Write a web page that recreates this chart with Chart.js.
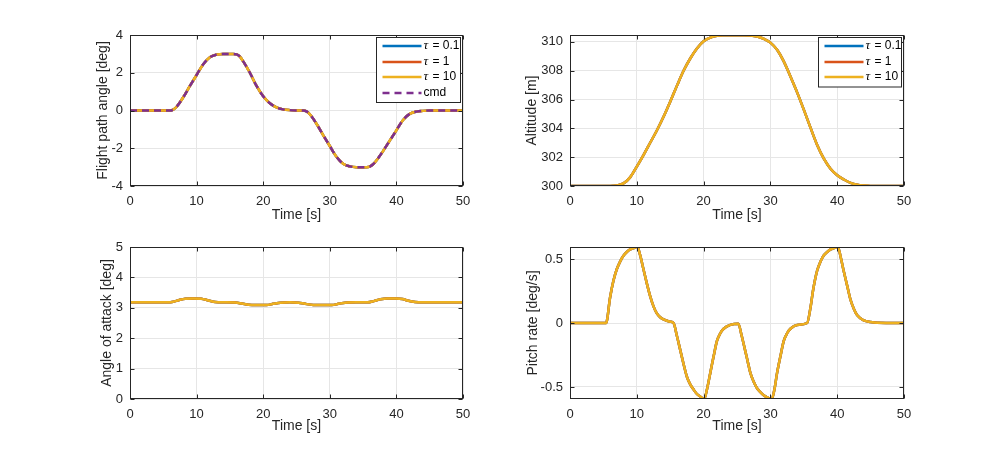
<!DOCTYPE html>
<html><head><meta charset="utf-8">
<script src="https://cdn.jsdelivr.net/npm/chart.js@4.4.0/dist/chart.umd.min.js"></script>
<style>
html,body{margin:0;padding:0;background:#fff;}
#fig{position:relative;width:1000px;height:450px;overflow:hidden;background:#fff;}
canvas{position:absolute;}
</style></head>
<body><div id="fig">
<canvas id="cGamma"></canvas>
<canvas id="cAlt"></canvas>
<canvas id="cAlpha"></canvas>
<canvas id="cQ"></canvas>
</div>
<script>
// ---------- data ----------
const seriesLabels = ['τ = 0.1', 'τ = 1', 'τ = 10'];
const cmdLabel = 'cmd';

const timeTicks = [0, 10, 20, 30, 40, 50];
const gammaTicks = [-4, -2, 0, 2, 4];
const altTicks = [300, 302, 304, 306, 308, 310];
const alphaTicks = [0, 1, 2, 3, 4, 5];
const qTicks = [-0.5, 0, 0.5];
const qTickLabels = ['-0.5', '0', '0.5'];

// Flight path angle [deg]
const tGamma = [0, 6, 6.5, 7, 8, 9, 10, 11, 12, 13, 14, 15.5, 16, 16.5, 17, 18, 19, 20, 21, 22, 23, 24, 25, 26, 26.5, 27, 28, 29, 30, 31, 32, 33, 34, 35.5, 36, 36.5, 37, 38, 39, 40, 41, 42, 43, 44, 45, 50];
const gammaResp = [0, 0, 0.05, 0.2, 0.7, 1.3, 1.88, 2.45, 2.82, 2.96, 3.0, 3.0, 2.97, 2.85, 2.6, 2.0, 1.3, 0.75, 0.38, 0.16, 0.06, 0.02, 0.005, 0, -0.05, -0.2, -0.7, -1.3, -1.88, -2.45, -2.82, -2.96, -3.0, -3.0, -2.97, -2.85, -2.65, -2.15, -1.6, -1.05, -0.5, -0.18, -0.06, -0.02, 0, 0];
const gammaCmd = [0, 0, 0.05, 0.2, 0.7, 1.3, 1.88, 2.45, 2.82, 2.96, 3.0, 3.0, 2.97, 2.85, 2.6, 2.0, 1.3, 0.75, 0.38, 0.16, 0.06, 0.02, 0.005, 0, -0.05, -0.2, -0.7, -1.3, -1.88, -2.45, -2.82, -2.96, -3.0, -3.0, -2.97, -2.85, -2.65, -2.15, -1.6, -1.05, -0.5, -0.18, -0.06, -0.02, 0, 0];

// Altitude [m]
const tAlt = [0, 6, 7, 8, 9, 10, 11, 12, 13, 14, 15, 16, 17, 18, 19, 20, 21, 22, 23, 24, 26, 27, 28, 29, 30, 31, 32, 33, 34, 35, 36, 37, 38, 39, 40, 41, 42, 43, 44, 45, 50];
const altResp = [300, 300, 300.03, 300.18, 300.6, 301.35, 302.15, 303.0, 303.85, 304.8, 305.85, 306.95, 308.0, 308.85, 309.55, 310.05, 310.3, 310.42, 310.46, 310.47, 310.47, 310.45, 310.38, 310.22, 309.95, 309.45, 308.65, 307.6, 306.5, 305.3, 304.05, 302.85, 301.9, 301.2, 300.75, 300.45, 300.22, 300.09, 300.03, 300.0, 300];

// Angle of attack [deg]
const tAlpha = [0, 5.7, 6.5, 7.3, 8.3, 9.5, 10.7, 11.8, 12.8, 14, 15.8, 16.8, 17.8, 19, 20.5, 21.5, 22.6, 24, 25.3, 26.3, 27.5, 29, 30.3, 31.3, 32.3, 34, 35.7, 36.6, 37.6, 38.6, 40, 40.9, 41.8, 42.8, 44, 50];
const alphaResp = [3.18, 3.18, 3.2, 3.25, 3.3, 3.31, 3.3, 3.24, 3.19, 3.18, 3.175, 3.14, 3.1, 3.09, 3.09, 3.13, 3.17, 3.18, 3.17, 3.13, 3.095, 3.09, 3.09, 3.13, 3.17, 3.18, 3.18, 3.22, 3.28, 3.31, 3.31, 3.29, 3.23, 3.19, 3.18, 3.18];

// Pitch rate [deg/s]
const tQ = [0, 5.4, 6, 6.5, 7, 7.5, 8, 8.5, 9, 9.5, 10.1, 10.5, 11, 11.5, 12, 12.5, 13, 13.5, 14, 15, 15.5, 16, 16.5, 17, 17.5, 18, 18.5, 19, 19.5, 20.1, 20.5, 21, 21.5, 22, 22.5, 23, 24, 25.2, 25.7, 26.2, 26.6, 27, 27.5, 28, 28.5, 29, 29.5, 30.2, 30.6, 31, 31.5, 32, 32.5, 33, 34, 35.5, 36, 36.4, 37, 37.5, 38, 38.5, 39, 39.5, 40.1, 40.5, 41, 41.5, 42, 42.5, 43, 44, 45, 46, 50];
const qResp = [0, 0, 0.2, 0.33, 0.42, 0.48, 0.525, 0.555, 0.575, 0.585, 0.595, 0.53, 0.42, 0.31, 0.21, 0.13, 0.075, 0.045, 0.028, 0.01, 0.0, -0.1, -0.21, -0.32, -0.42, -0.48, -0.52, -0.555, -0.575, -0.595, -0.52, -0.39, -0.26, -0.14, -0.08, -0.045, -0.015, -0.005, -0.1, -0.21, -0.3, -0.39, -0.46, -0.51, -0.54, -0.565, -0.58, -0.595, -0.52, -0.39, -0.26, -0.14, -0.08, -0.045, -0.015, 0, 0.12, 0.26, 0.41, 0.48, 0.53, 0.555, 0.575, 0.585, 0.595, 0.52, 0.4, 0.29, 0.18, 0.11, 0.06, 0.02, 0.008, 0.002, 0];

// ---------- styling ----------
const COLORS = ['#0072BD', '#D95319', '#EDB120'];
const CMD_COLOR = '#7E2F8E';
const TXT = '#262626';
const GRID = '#e6e6e6';
const FONT = "'Liberation Sans', Arial, Helvetica, sans-serif";

const matlabPlugin = {
  id: 'matlab',
  afterDraw(chart, args, opts) {
    const {ctx, chartArea: a, scales} = chart;
    const L = Math.round(a.left) + 0.5, R = Math.round(a.right) - 0.5;
    const T = Math.round(a.top) + 0.5, B = Math.round(a.bottom) - 0.5;
    ctx.save();
    ctx.strokeStyle = TXT; ctx.lineWidth = 1; ctx.setLineDash([]);
    const tl = 4;
    ctx.beginPath();
    scales.x.ticks.forEach(t => {
      const px = Math.round(scales.x.getPixelForValue(t.value)) + 0.5;
      ctx.moveTo(px, B); ctx.lineTo(px, B - tl);
      ctx.moveTo(px, T); ctx.lineTo(px, T + tl);
    });
    scales.y.ticks.forEach(t => {
      const py = Math.round(scales.y.getPixelForValue(t.value)) + 0.5;
      ctx.moveTo(L, py); ctx.lineTo(L + tl, py);
      ctx.moveTo(R, py); ctx.lineTo(R - tl, py);
    });
    ctx.stroke();
    ctx.strokeRect(L, T, R - L, B - T);

    const items = opts.items;
    if (items && items.length) {
      const rowH = 15.5, w = opts.width, h = items.length * rowH + 3;
      const x1 = Math.round(a.right - 3 - w) + 0.5, y1 = Math.round(a.top + 2) + 0.5;
      ctx.fillStyle = '#fff';
      ctx.fillRect(x1, y1, w, h);
      ctx.strokeStyle = TXT; ctx.lineWidth = 1;
      ctx.strokeRect(x1, y1, w, h);
      items.forEach((it, i) => {
        const cy = Math.round(y1 + 8.5 + i * rowH);
        ctx.beginPath();
        ctx.setLineDash(it.dash || []);
        ctx.strokeStyle = it.color; ctx.lineWidth = 2.5;
        ctx.moveTo(x1 + 6, cy); ctx.lineTo(x1 + 45, cy);
        ctx.stroke();
        ctx.setLineDash([]);
        ctx.fillStyle = '#000'; ctx.textBaseline = 'middle'; ctx.textAlign = 'left';
        let tx = x1 + 47;
        let label = it.label;
        if (label.startsWith('τ')) {
          ctx.font = "italic 13px 'Liberation Serif', 'DejaVu Serif', serif";
          ctx.fillText('τ', tx, cy);
          tx += ctx.measureText('τ').width + 1;
          label = label.slice(1);
        }
        ctx.font = '12px ' + FONT;
        ctx.fillText(label, tx, cy);
      });
    }
    ctx.restore();
  }
};
Chart.register(matlabPlugin);

function pts(t, v) { return t.map((x, i) => ({x: x, y: v[i]})); }

function tauDatasets(t, v) {
  return seriesLabels.map((lab, k) => ({
    label: lab, data: pts(t, v), borderColor: COLORS[k], backgroundColor: COLORS[k],
    borderWidth: 2.5, pointRadius: 0, cubicInterpolationMode: 'monotone', fill: false,
    order: 10 - k
  }));
}

function makePlot(id, g, yCfg, datasets, legend) {
  const cv = document.getElementById(id);
  cv.width = g.W; cv.height = g.H;
  cv.style.left = g.cx + 'px'; cv.style.top = g.cy + 'px';
  cv.style.width = g.W + 'px'; cv.style.height = g.H + 'px';
  const padLeft = g.L - g.cx - g.yw;
  const padTop = g.T - g.cy;
  const padRight = g.cx + g.W - g.R;
  const padBottom = g.cy + g.H - g.B - g.xh;
  return new Chart(cv, {
    type: 'line',
    data: {datasets: datasets},
    options: {
      responsive: false, animation: false, events: [],
      layout: {padding: {left: padLeft, top: padTop, right: padRight, bottom: padBottom}},
      plugins: {legend: {display: false}, tooltip: {enabled: false}, matlab: legend},
      scales: {
        x: {
          type: 'linear', min: 0, max: 50,
          afterBuildTicks: s => { s.ticks = timeTicks.map(v => ({value: v})); },
          afterFit: s => { s.height = g.xh; },
          grid: {color: GRID, drawTicks: false, lineWidth: 1},
          border: {display: false},
          ticks: {padding: 8, color: TXT, font: {family: FONT, size: 13}, maxRotation: 0, autoSkip: false,
                  callback: (v, i) => String(timeTicks[i])},
          title: {display: true, text: 'Time [s]', color: TXT, font: {family: FONT, size: 14}, padding: 0}
        },
        y: {
          type: 'linear', min: yCfg.min, max: yCfg.max,
          afterBuildTicks: s => { s.ticks = yCfg.ticks.map(v => ({value: v})); },
          afterFit: s => { s.width = g.yw; },
          grid: {color: GRID, drawTicks: false, lineWidth: 1},
          border: {display: false},
          ticks: {padding: 7, color: TXT, font: {family: FONT, size: 13}, autoSkip: false,
                  callback: (v, i) => yCfg.labels ? yCfg.labels[i] : String(yCfg.ticks[i])},
          title: {display: true, text: yCfg.title, color: TXT, font: {family: FONT, size: 14}, padding: 0}
        }
      }
    }
  });
}

// Flight path angle
const gammaSets = tauDatasets(tGamma, gammaResp);
gammaSets.push({label: cmdLabel, data: pts(tGamma, gammaCmd), borderColor: CMD_COLOR, backgroundColor: CMD_COLOR,
  borderWidth: 2.5, borderDash: [7, 5], pointRadius: 0, cubicInterpolationMode: 'monotone', fill: false, order: 0});
makePlot('cGamma', {cx: 60, cy: 15, W: 420, H: 220, L: 130, T: 35, R: 463, B: 186, yw: 35, xh: 38},
  {min: -4, max: 4, ticks: gammaTicks, title: 'Flight path angle [deg]'}, gammaSets,
  {width: 84, items: [
    {label: seriesLabels[0], color: COLORS[0]}, {label: seriesLabels[1], color: COLORS[1]},
    {label: seriesLabels[2], color: COLORS[2]}, {label: cmdLabel, color: CMD_COLOR, dash: [7, 5]}]});

// Altitude
makePlot('cAlt', {cx: 500, cy: 15, W: 420, H: 220, L: 570, T: 35, R: 904, B: 186, yw: 46, xh: 38},
  {min: 300, max: 310.48, ticks: altTicks, title: 'Altitude [m]'}, tauDatasets(tAlt, altResp),
  {width: 83, items: [
    {label: seriesLabels[0], color: COLORS[0]}, {label: seriesLabels[1], color: COLORS[1]},
    {label: seriesLabels[2], color: COLORS[2]}]});

// Angle of attack
makePlot('cAlpha', {cx: 60, cy: 230, W: 420, H: 220, L: 130, T: 247, R: 463, B: 399, yw: 31, xh: 36},
  {min: 0, max: 5, ticks: alphaTicks, title: 'Angle of attack [deg]'}, tauDatasets(tAlpha, alphaResp), {items: []});

// Pitch rate
makePlot('cQ', {cx: 500, cy: 230, W: 420, H: 220, L: 570, T: 247, R: 904, B: 399, yw: 45, xh: 36},
  {min: -0.594, max: 0.594, ticks: qTicks, labels: qTickLabels, title: 'Pitch rate [deg/s]'}, tauDatasets(tQ, qResp), {items: []});
</script>
</body></html>
